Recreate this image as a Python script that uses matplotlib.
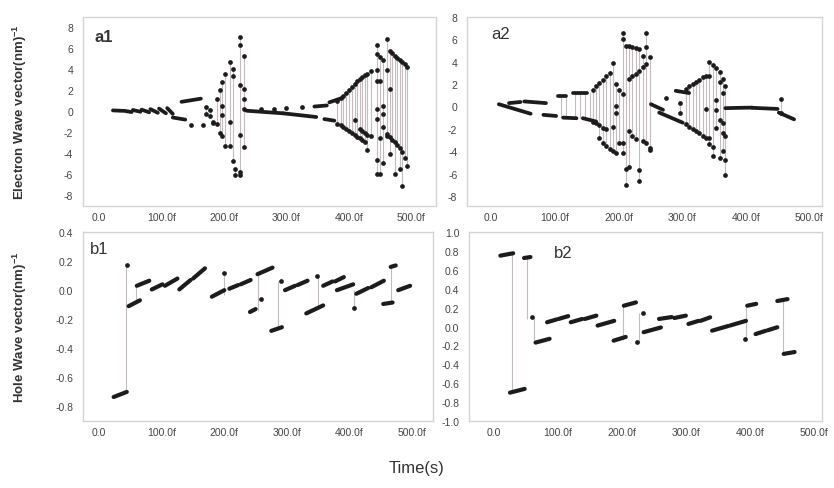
import matplotlib.pyplot as plt

plt.rcParams["font.family"] = ["Liberation Sans", "DejaVu Sans"]

# -------------------------------------------------
# Shared axis ticks
# -------------------------------------------------

x_ticks = [0, 100, 200, 300, 400, 500]
x_tick_labels = ["0.0", "100.0f", "200.0f", "300.0f", "400.0f", "500.0f"]

# -------------------------------------------------
# a1 : electron wave vector, run 1
# runs  -> (t_start, t_end, k_start, k_end) dense stretches of points
# times / k -> single samples, several k values per time
# -------------------------------------------------

a1_runs = [
    (22, 37, 0.08, 0.04), (39, 52, 0.05, -0.08), (54, 66, 0.12, -0.05),
    (68, 80, 0.15, -0.10), (82, 94, 0.20, -0.15), (96, 107, 0.25, -0.20),
    (109, 118, 0.30, -0.25), (118, 138, -0.60, -0.80), (132, 163, 0.90, 1.20),
    (236, 295, 0.05, -0.20), (295, 348, -0.20, -0.55), (345, 365, 0.45, 0.55),
    (361, 377, -0.75, -0.90), (369, 386, 0.85, 1.20),
]
a1_times = [147, 167, 172, 177, 183, 189, 193, 197, 201, 209, 214, 218, 226, 232,
            260, 280, 300, 325,
            381, 387, 391, 396, 401, 406, 410, 414, 418, 422, 426, 430, 436,
            445, 450, 455, 461, 466, 470, 474, 478, 482, 486, 490, 494]
a1_k = [
    [-1.3], [-1.3], [0.4, -0.3], [0.1, -0.5], [-1.0, -1.15], [1.2, -1.2],
    [2.0, -2.1], [2.8, 0.5, -0.4, -2.4], [3.6, -3.3], [4.7, -1.0, -3.3],
    [4.0, 3.4, -4.8], [-5.5, -6.1], [7.1, 6.3, 2.5, -2.3, -5.8, -6.1],
    [5.3, 2.1, 1.2, 0.25, -3.4],
    [0.25], [0.25], [0.3], [0.4],
    [1.0, -1.2], [1.3, -1.3], [1.5, -1.5], [1.75, -1.7], [2.0, -1.9],
    [2.3, -2.1], [2.6, -0.8, -2.3], [2.9, -2.5], [3.1, -1.7, -2.6],
    [3.3, -1.9, -2.7], [3.5, -2.1, -2.9], [3.6, -2.3, -3.7], [3.8, -2.4],
    [6.3, 5.5, 3.9, 2.9, 0.25, -0.7, -4.7, -6.0], [5.2, 2.9, -2.6, -6.0],
    [4.9, 0.5, -0.3, -1.5, -4.9], [6.9, 3.9, -2.2, -2.4], [5.8, 2.1, -2.5, -4.1],
    [5.6, -2.7], [5.3, -2.9, -6.0], [5.1, -3.2], [4.9, -3.5, -5.5],
    [4.7, -3.9, -7.1], [4.5, -4.5], [4.2, -5.2],
]
a1_links = []

# -------------------------------------------------
# a2 : electron wave vector, run 2
# -------------------------------------------------

a2_runs = [
    (12, 62, 0.20, -0.65), (28, 46, 0.30, 0.40), (52, 86, 0.45, 0.30),
    (82, 102, -0.75, -0.85), (105, 118, 0.90, 0.90), (113, 134, -1.00, -1.05),
    (129, 150, 1.20, 1.20), (144, 165, -1.05, -1.35),
    (251, 270, 0.20, -0.30), (264, 301, -0.55, -1.45), (290, 311, 1.40, 1.20),
    (368, 410, -0.15, -0.10), (410, 450, -0.12, -0.22), (452, 476, -0.55, -1.15),
]
a2_times = [160, 165, 170, 175, 180, 186, 191, 196, 201, 207, 212, 217, 222,
            227, 233, 238, 244, 249,
            275, 296, 306, 311, 317, 322, 327, 333, 338,
            343, 349, 354, 359, 364, 368, 455]
a2_k = [
    [1.5, -1.4], [1.8, -1.5], [2.1, -1.7, -2.8], [2.4, -1.9, -3.3],
    [2.7, -2.0, -3.5], [3.0, -3.8], [3.9, -1.8, -4.0], [2.0, 0.05, -0.6, -4.2],
    [1.5, -3.3], [6.6, 6.0, 1.1, -3.3, -4.2], [5.4, -5.6, -7.0],
    [5.4, 2.5, -2.2, -5.4], [5.3, 2.7, -2.6], [5.2, 2.9, -2.9],
    [5.1, 3.2, -5.7, -6.7], [4.5, 3.5, -3.1], [6.6, 5.3, 3.8, -3.3],
    [4.4, -3.7, -3.9],
    [0.8], [0.34, -0.56], [1.6, -1.6], [1.8, -1.8], [2.0, -2.0], [2.2, -2.2],
    [2.4, -2.4], [2.6, -2.6], [2.7, -0.26, -2.8],
    [4.0, 2.7, -2.8, -3.4], [3.7, -3.6, -4.4], [3.4, 0.6, -0.3, -1.9],
    [3.1, 2.2, -1.2, -4.6], [2.5, 1.2, -1.5, -2.4, -4.0], [1.8, -2.6, -4.8, -6.1],
    [0.64, -0.56],
]
a2_links = [(110, -0.95, 0.9), (117, -1.0, 0.9), (132, -1.05, 1.2),
            (140, -1.0, 1.2), (148, -1.1, 1.2), (155, -1.2, 1.3)]

# -------------------------------------------------
# b1 : hole wave vector, run 1
# -------------------------------------------------

b1_runs = [
    (23, 44, -0.735, -0.70), (47, 65, -0.11, -0.07), (60, 80, 0.03, 0.065),
    (84, 101, 0.005, 0.04), (105, 125, 0.03, 0.08),
    (128, 146, 0.005, 0.07), (150, 169, 0.08, 0.15),
    (180, 200, -0.045, 0.0),
    (208, 222, 0.01, 0.035), (226, 242, 0.04, 0.07),
    (241, 250, -0.15, -0.13), (253, 277, 0.11, 0.155),
    (275, 292, -0.28, -0.255),
    (297, 313, 0.0, 0.03), (317, 333, 0.035, 0.065),
    (331, 358, -0.16, -0.105),
    (358, 373, 0.03, 0.06), (377, 391, 0.06, 0.09),
    (380, 406, 0.0, 0.04),
    (411, 430, -0.025, 0.015), (435, 455, 0.02, 0.065),
    (454, 469, -0.095, -0.085), (466, 474, 0.16, 0.17), (478, 497, 0.0, 0.03),
]
b1_times = [44, 200, 258, 290, 348, 407]
b1_k = [[0.17], [0.12], [-0.06], [0.065], [0.1], [-0.12]]
b1_links = [(42, -0.70, 0.17), (58, -0.08, 0.03), (200, -0.03, 0.12),
            (254, -0.14, 0.12), (286, -0.27, 0.06), (350, -0.11, 0.1),
            (407, -0.12, 0.0), (466, -0.09, 0.16)]

# -------------------------------------------------
# b2 : hole wave vector, run 2
# -------------------------------------------------

b2_runs = [
    (10, 30, 0.75, 0.775), (47, 57, 0.725, 0.735), (25, 48, -0.70, -0.66),
    (65, 87, -0.17, -0.13),
    (83, 98, 0.045, 0.075), (101, 116, 0.08, 0.11),
    (120, 138, 0.045, 0.08), (142, 160, 0.08, 0.115),
    (162, 188, 0.01, 0.06), (187, 206, -0.15, -0.11), (203, 222, 0.22, 0.255),
    (234, 261, -0.06, -0.01),
    (258, 278, 0.08, 0.10), (282, 300, 0.09, 0.115),
    (304, 320, 0.027, 0.06), (323, 338, 0.06, 0.097),
    (341, 366, -0.044, 0.005), (369, 394, 0.01, 0.06),
    (396, 410, 0.22, 0.24),
    (409, 425, -0.08, -0.045), (428, 443, -0.04, -0.008),
    (443, 459, 0.27, 0.29), (453, 470, -0.29, -0.27),
]
b2_times = [59, 233, 223, 392]
b2_k = [[0.097], [0.14], [-0.167], [-0.13]]
b2_links = [(28, -0.68, 0.77), (51, 0.08, 0.73), (62, -0.16, 0.09),
            (202, -0.14, 0.24), (226, -0.16, 0.14), (394, -0.12, 0.23),
            (452, -0.28, 0.28)]

# -------------------------------------------------
# Styling
# -------------------------------------------------

DOT = "#1c1c1c"
LINK = "#c4bcbc"
FRAME = "#d4d4d4"
TEXT = "#444444"


def draw_panel(ax, runs, times, k_sets, links, xlim, ylim, yticks, yfmt,
               tag, tag_xy, run_width, tag_weight="normal"):
    # vertical connectors between values at the same time
    for t, ks in zip(times, k_sets):
        if len(ks) > 1:
            ax.vlines(t, min(ks), max(ks), color=LINK, lw=0.8, zorder=1)
    for t, lo, hi in links:
        ax.vlines(t, lo, hi, color=LINK, lw=0.8, zorder=1)

    # dense runs of samples
    for t0, t1, k0, k1 in runs:
        ax.plot([t0, t1], [k0, k1], color=DOT, lw=run_width,
                solid_capstyle="round", zorder=3)

    # single samples
    for t, ks in zip(times, k_sets):
        ax.plot([t] * len(ks), ks, "o", ms=3.4, color=DOT, mec="none", zorder=3)

    ax.set_xlim(*xlim)
    ax.set_ylim(*ylim)
    ax.set_xticks(x_ticks)
    ax.set_xticklabels(x_tick_labels)
    ax.set_yticks(yticks)
    ax.set_yticklabels([yfmt.format(v) for v in yticks])
    ax.tick_params(axis="x", length=0, pad=4, labelsize=7.5, colors=TEXT)
    ax.tick_params(axis="y", length=0, pad=7, labelsize=7.5, colors=TEXT)
    for s in ax.spines.values():
        s.set_color(FRAME)
        s.set_linewidth(1.0)
    ax.text(tag_xy[0], tag_xy[1], tag, transform=ax.transAxes, fontsize=12,
            fontweight=tag_weight, color="#333333", va="top", ha="left")


fig = plt.figure(figsize=(8.34, 4.89), dpi=100)

ax_a1 = fig.add_axes([0.0995, 0.5767, 0.4233, 0.3865])
ax_a2 = fig.add_axes([0.5600, 0.5767, 0.4257, 0.3865])
ax_b1 = fig.add_axes([0.0995, 0.1370, 0.4200, 0.3865])
ax_b2 = fig.add_axes([0.5624, 0.1370, 0.4233, 0.3865])

e_ticks = [-8, -6, -4, -2, 0, 2, 4, 6, 8]

draw_panel(ax_a1, a1_runs, a1_times, a1_k, a1_links,
           (-26, 540), (-9.05, 9.0), e_ticks, "{:g}", "a1", (0.034, 0.935),
           2.7, "bold")
draw_panel(ax_a2, a2_runs, a2_times, a2_k, a2_links,
           (-38, 520), (-8.9, 8.0), e_ticks, "{:g}", "a2", (0.068, 0.955), 2.7)
draw_panel(ax_b1, b1_runs, b1_times, b1_k, b1_links,
           (-26, 534), (-0.9, 0.4), [-0.8, -0.6, -0.4, -0.2, 0.0, 0.2, 0.4],
           "{:.1f}", "b1", (0.02, 0.955), 3.0)
draw_panel(ax_b2, b2_runs, b2_times, b2_k, b2_links,
           (-39, 513), (-1.0, 1.0),
           [-1.0, -0.8, -0.6, -0.4, -0.2, 0.0, 0.2, 0.4, 0.6, 0.8, 1.0],
           "{:.1f}", "b2", (0.24, 0.93), 3.0)

fig.text(0.024, 0.771, r"Electron Wave vector(nm)$^{\mathregular{-1}}$",
         rotation=90, ha="center", va="center", fontsize=9.5,
         fontweight="bold", color="#333333")
fig.text(0.024, 0.331, r"Hole Wave vector(nm)$^{\mathregular{-1}}$",
         rotation=90, ha="center", va="center", fontsize=9.5,
         fontweight="bold", color="#333333")
fig.text(0.5, 0.041, "Time(s)", ha="center", va="center",
         fontsize=12, color="#333333")

fig.savefig("out.png", dpi=100)
